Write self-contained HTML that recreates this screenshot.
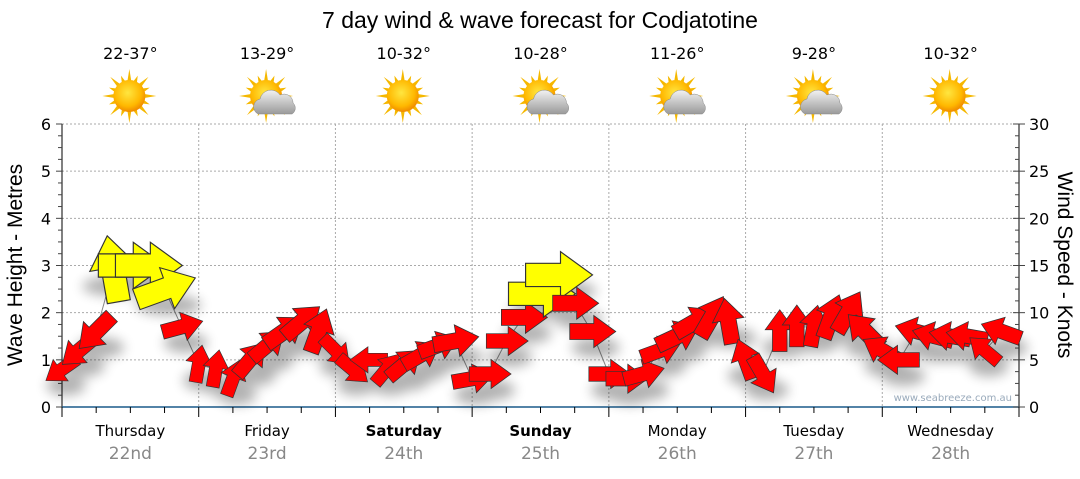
<!DOCTYPE html>
<html><head><meta charset="utf-8">
<style>
body{margin:0;background:#fff;width:1080px;height:475px;overflow:hidden;font-family:"DejaVu Sans","Liberation Sans",sans-serif;}
svg text{font-family:"DejaVu Sans","Liberation Sans",sans-serif;}
</style></head>
<body>
<svg id="chart" width="1080" height="475" viewBox="0 0 1080 475" xmlns="http://www.w3.org/2000/svg">
<defs>
<radialGradient id="sunG" cx="45%" cy="40%" r="60%"><stop offset="0" stop-color="#ffe640"/><stop offset="0.7" stop-color="#ffb800"/><stop offset="1" stop-color="#f08a00"/></radialGradient>
<linearGradient id="cloudG" x1="0" y1="0" x2="0" y2="1"><stop offset="0" stop-color="#f2f2f2"/><stop offset="1" stop-color="#9a9a9a"/></linearGradient>
<filter id="shadow" x="-50%" y="-50%" width="200%" height="200%"><feGaussianBlur stdDeviation="6"/></filter>
</defs>
<text x="540" y="28" font-size="23" text-anchor="middle" fill="#000" style="font-family:'Liberation Sans',sans-serif">7 day wind &amp; wave forecast for Codjatotine</text>
<g id="grid"></g>
<g id="axes"></g>
<g id="weather"></g>
<g id="series"></g>
<text x="1012" y="401" font-size="10" text-anchor="end" fill="#9ab">www.seabreeze.com.au</text>
<text transform="translate(22,265) rotate(-90)" font-size="21" text-anchor="middle" style="font-family:'Liberation Sans',sans-serif">Wave Height - Metres</text>
<text transform="translate(1058,265) rotate(90)" font-size="21" text-anchor="middle" style="font-family:'Liberation Sans',sans-serif">Wind Speed - Knots</text>
</svg>
<script>
const dayNames=["Thursday","Friday","Saturday","Sunday","Monday","Tuesday","Wednesday"];
const dayDates=["22nd","23rd","24th","25th","26th","27th","28th"];
const boldDays=[false,false,true,true,false,false,false];
const temps=["22-37°","13-29°","10-32°","10-28°","11-26°","9-28°","10-32°"];
const cloudy=[false,true,false,true,true,true,false];
const waveTicks=[0,1,2,3,4,5,6];
const windTicks=[0,5,10,15,20,25,30];
// 3-hourly wave height (m), wind direction (deg, 0=pointing right, clockwise), wind speed (knots)
const waveHeight=[0.8,1.2,1.6,2.9,3.0,3.0,2.5,1.7, 0.9,0.8,0.6,1.0,1.3,1.6,1.8,1.6, 1.2,0.8,1.0,0.8,0.9,1.1,1.3,1.4, 0.6,0.7,1.4,1.9,2.4,2.8,2.2,1.6, 0.7,0.6,0.7,1.2,1.5,1.8,1.9,1.8, 1.0,0.7,1.6,1.7,1.7,1.9,2.0,1.6, 1.2,1.0,1.6,1.5,1.5,1.5,1.2,1.6];
const windDir=[145,140,135,-100,0,0,-20,-15, -80,-80,-70,-50,-40,-35,-40,-70, 45,40,180,-50,-40,-30,-20,-10, -10,0,0,0,0,0,0,0, 0,0,-15,-20,-25,-30,-60,-100, -110,60,-90,-90,-80,-70,-60,-135, -150,180,-165,-165,-170,-170,-140,-160];
const windSpeed=[9,10,11,16,16,16,15,10, 9,9,9,10,10,11,11,11, 9,9,9,9,10,10,10,11, 10,10,10,11,16,16,11,11, 10,10,10,10,11,11,11,11, 10,10,10,10,10,11,11,11, 10,10,10,10,10,10,9,10];

const NS="http://www.w3.org/2000/svg";
const X0=62,X1=1019,Y0=407,Y6=124;
const dayW=(X1-X0)/7;
const xAt=h=>X0+h/24*dayW;
const yWave=v=>Y0-(Y0-Y6)*v/6;
const yWind=v=>Y0-(Y0-Y6)*v/30;
function mk(tag,attrs,parent){const e=document.createElementNS(NS,tag);for(const k in attrs)e.setAttribute(k,attrs[k]);parent.appendChild(e);return e;}
const grid=document.getElementById('grid'),axes=document.getElementById('axes'),weather=document.getElementById('weather'),series=document.getElementById('series');

waveTicks.forEach(t=>{if(t===0)return;const l=mk('line',{x1:X0,x2:X1,y1:yWave(t),y2:yWave(t),stroke:'#aaa','stroke-dasharray':'2,2'},grid);

});
for(let d=1;d<7;d++){const l=mk('line',{x1:X0+d*dayW,x2:X0+d*dayW,y1:Y6,y2:Y0,stroke:'#aaa','stroke-dasharray':'2,2'},grid);

}

mk('line',{x1:X0,x2:X0,y1:Y6,y2:Y0,stroke:'#000'},axes);
mk('line',{x1:X1,x2:X1,y1:Y6,y2:Y0,stroke:'#000'},axes);
mk('line',{x1:X0,x2:X1,y1:Y0,y2:Y0,stroke:'#1a5a8a','stroke-width':1.5},axes);
for(let i=0;i<=24;i++){const y=Y0-(Y0-Y6)*i/24;const major=i%4===0;
mk('line',{x1:X0-(major?6:4),x2:X0,y1:y,y2:y,stroke:'#444'},axes);
mk('line',{x1:X1-(major?6:4),x2:X1+(major?6:0),y1:y,y2:y,stroke:'#444'},axes);}
waveTicks.forEach(t=>{const e=mk('text',{x:51,y:yWave(t)+6,'font-size':16,'text-anchor':'end'},axes);e.textContent=t;

});
windTicks.forEach(t=>{const e=mk('text',{x:1029,y:yWind(t)+6,'font-size':16,'text-anchor':'start'},axes);e.textContent=t;

});
for(let i=0;i<=28;i++){const x=X0+i*dayW/4;mk('line',{x1:x,x2:x,y1:Y0,y2:Y0+(i%4===0?10:6),stroke:'#000'},axes);}
dayNames.forEach((n,d)=>{const cx=X0+(d+0.5)*dayW;
const t=mk('text',{x:cx,y:436,'font-size':15,'text-anchor':'middle','font-weight':boldDays[d]?'bold':'normal'},axes);t.textContent=n;


const t2=mk('text',{x:cx,y:459,'font-size':17,'text-anchor':'middle',fill:'#888'},axes);t2.textContent=dayDates[d];

});

temps.forEach((tp,d)=>{const cx=X0+(d+0.5)*dayW;
const t=mk('text',{x:cx,y:59,'font-size':16,'text-anchor':'middle'},weather);t.textContent=tp;


const g=mk('g',{transform:`translate(${cx-1},${96})`},weather);


for(let k=0;k<16;k++){const a=k*Math.PI/8;const L=(k%2===0)?27:22;const w=0.13;
mk('polygon',{points:`${Math.cos(a-w)*15},${Math.sin(a-w)*15} ${Math.cos(a)*L},${Math.sin(a)*L} ${Math.cos(a+w)*15},${Math.sin(a+w)*15}`,fill:'#f5b800'},g);}
mk('circle',{r:16,fill:'url(#sunG)'},g);
if(cloudy[d]){mk('path',{d:'M-8,18 a8,8 0 0 1 2,-15 a11,11 0 0 1 20,-4 a9,9 0 0 1 13,8 a7,7 0 0 1 -1,11 z',fill:'url(#cloudG)',stroke:'#888','stroke-width':0.5},g);}
});

const pts=waveHeight.map((v,i)=>[xAt(i*3),yWave(v)]);
const line=mk('polyline',{points:pts.map(p=>p.join(',')).join(' '),fill:'none',stroke:'#888','stroke-width':1},series);


const sh=mk('g',{filter:'url(#shadow)',opacity:0.3},series);
waveHeight.forEach((v,i)=>{const [x,y]=pts[i];const s=windSpeed[i]/11;
mk('ellipse',{cx:x+4,cy:y+16,rx:24*s,ry:10,fill:'#000'},sh);});
waveHeight.forEach((v,i)=>{const [x,y]=pts[i];const s=windSpeed[i]/11;const yellow=windSpeed[i]>=15;
const a=mk('polygon',{points:'-22,-8 2,-8 2,-16 24,0 2,16 2,8 -22,8',fill:yellow?'#ffff00':'#ff0000',stroke:'#333','stroke-width':0.8,transform:`translate(${x},${y}) rotate(${windDir[i]}) scale(${s})`},series);

});
</script>
</body></html>
